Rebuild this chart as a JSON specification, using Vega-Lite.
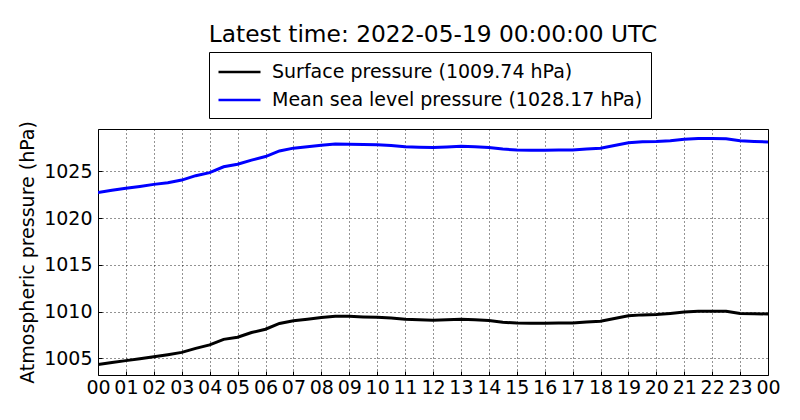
{
  "$schema": "https://vega.github.io/schema/vega-lite/v6.json",
  "width": 670,
  "height": 246,
  "autosize": {"type": "none"},
  "padding": {"left": 98, "top": 129, "right": 32, "bottom": 45},
  "background": "white",
  "title": {
    "text": "Latest time: 2022-05-19 00:00:00 UTC",
    "font": "DejaVu Sans",
    "fontSize": 23.3,
    "fontWeight": "normal",
    "color": "black",
    "anchor": "middle",
    "frame": "group",
    "baseline": "alphabetic",
    "offset": -14
  },
  "data": {
    "values": [
      {"t": "2022-05-18T00:00:00Z", "surface": 1004.32, "msl": 1022.75},
      {"t": "2022-05-18T00:30:00Z", "surface": 1004.55, "msl": 1022.98},
      {"t": "2022-05-18T01:00:00Z", "surface": 1004.74, "msl": 1023.2},
      {"t": "2022-05-18T01:30:00Z", "surface": 1004.95, "msl": 1023.4},
      {"t": "2022-05-18T02:00:00Z", "surface": 1005.15, "msl": 1023.62},
      {"t": "2022-05-18T02:30:00Z", "surface": 1005.38, "msl": 1023.8},
      {"t": "2022-05-18T03:00:00Z", "surface": 1005.62, "msl": 1024.08},
      {"t": "2022-05-18T03:30:00Z", "surface": 1006.05, "msl": 1024.55},
      {"t": "2022-05-18T04:00:00Z", "surface": 1006.42, "msl": 1024.88},
      {"t": "2022-05-18T04:30:00Z", "surface": 1007.02, "msl": 1025.5},
      {"t": "2022-05-18T05:00:00Z", "surface": 1007.25, "msl": 1025.78},
      {"t": "2022-05-18T05:30:00Z", "surface": 1007.75, "msl": 1026.22},
      {"t": "2022-05-18T06:00:00Z", "surface": 1008.1, "msl": 1026.6},
      {"t": "2022-05-18T06:30:00Z", "surface": 1008.72, "msl": 1027.2},
      {"t": "2022-05-18T07:00:00Z", "surface": 1009.02, "msl": 1027.5},
      {"t": "2022-05-18T07:30:00Z", "surface": 1009.18, "msl": 1027.65},
      {"t": "2022-05-18T08:00:00Z", "surface": 1009.35, "msl": 1027.8},
      {"t": "2022-05-18T08:30:00Z", "surface": 1009.48, "msl": 1027.95},
      {"t": "2022-05-18T09:00:00Z", "surface": 1009.48, "msl": 1027.92},
      {"t": "2022-05-18T09:30:00Z", "surface": 1009.42, "msl": 1027.88},
      {"t": "2022-05-18T10:00:00Z", "surface": 1009.38, "msl": 1027.85},
      {"t": "2022-05-18T10:30:00Z", "surface": 1009.3, "msl": 1027.78},
      {"t": "2022-05-18T11:00:00Z", "surface": 1009.18, "msl": 1027.65},
      {"t": "2022-05-18T11:30:00Z", "surface": 1009.12, "msl": 1027.6},
      {"t": "2022-05-18T12:00:00Z", "surface": 1009.07, "msl": 1027.56},
      {"t": "2022-05-18T12:30:00Z", "surface": 1009.12, "msl": 1027.62},
      {"t": "2022-05-18T13:00:00Z", "surface": 1009.18, "msl": 1027.7},
      {"t": "2022-05-18T13:30:00Z", "surface": 1009.12, "msl": 1027.64},
      {"t": "2022-05-18T14:00:00Z", "surface": 1009.04, "msl": 1027.56},
      {"t": "2022-05-18T14:30:00Z", "surface": 1008.86, "msl": 1027.4},
      {"t": "2022-05-18T15:00:00Z", "surface": 1008.76, "msl": 1027.3},
      {"t": "2022-05-18T15:30:00Z", "surface": 1008.74, "msl": 1027.27},
      {"t": "2022-05-18T16:00:00Z", "surface": 1008.75, "msl": 1027.28},
      {"t": "2022-05-18T16:30:00Z", "surface": 1008.76, "msl": 1027.3},
      {"t": "2022-05-18T17:00:00Z", "surface": 1008.76, "msl": 1027.3},
      {"t": "2022-05-18T17:30:00Z", "surface": 1008.88, "msl": 1027.42},
      {"t": "2022-05-18T18:00:00Z", "surface": 1008.96, "msl": 1027.5},
      {"t": "2022-05-18T18:30:00Z", "surface": 1009.25, "msl": 1027.78},
      {"t": "2022-05-18T19:00:00Z", "surface": 1009.55, "msl": 1028.08},
      {"t": "2022-05-18T19:30:00Z", "surface": 1009.64, "msl": 1028.18},
      {"t": "2022-05-18T20:00:00Z", "surface": 1009.68, "msl": 1028.22},
      {"t": "2022-05-18T20:30:00Z", "surface": 1009.8, "msl": 1028.3},
      {"t": "2022-05-18T21:00:00Z", "surface": 1009.95, "msl": 1028.44},
      {"t": "2022-05-18T21:30:00Z", "surface": 1010.03, "msl": 1028.52},
      {"t": "2022-05-18T22:00:00Z", "surface": 1010.04, "msl": 1028.52},
      {"t": "2022-05-18T22:30:00Z", "surface": 1010.02, "msl": 1028.5},
      {"t": "2022-05-18T23:00:00Z", "surface": 1009.8, "msl": 1028.3},
      {"t": "2022-05-18T23:30:00Z", "surface": 1009.76, "msl": 1028.22},
      {"t": "2022-05-19T00:00:00Z", "surface": 1009.74, "msl": 1028.17}
    ]
  },
  "transform": [
    {"fold": ["surface", "msl"], "as": ["series", "pressure"]}
  ],
  "mark": {"type": "line", "strokeWidth": 3, "clip": true},
  "encoding": {
    "x": {
      "field": "t",
      "type": "temporal",
      "title": null,
      "scale": {
        "type": "utc",
        "domain": [1652832000000, 1652918400000],
        "nice": false
      },
      "axis": {
        "format": "%H",
        "values": [
          1652832000000, 1652835600000, 1652839200000, 1652842800000, 1652846400000,
          1652850000000, 1652853600000, 1652857200000, 1652860800000, 1652864400000,
          1652868000000, 1652871600000, 1652875200000, 1652878800000, 1652882400000,
          1652886000000, 1652889600000, 1652893200000, 1652896800000, 1652900400000,
          1652904000000, 1652907600000, 1652911200000, 1652914800000, 1652918400000
        ],
        "labelOverlap": false,
        "labelFlush": false,
        "labelPadding": 7
      }
    },
    "y": {
      "field": "pressure",
      "type": "quantitative",
      "title": "Atmospheric pressure (hPa)",
      "scale": {"domain": [1003.2, 1029.55], "nice": false, "zero": false},
      "axis": {
        "values": [1005, 1010, 1015, 1020, 1025],
        "format": "d",
        "labelPadding": 10,
        "titlePadding": 6
      }
    },
    "color": {
      "field": "series",
      "type": "nominal",
      "scale": {"domain": ["surface", "msl"], "range": ["black", "#0000ff"]},
      "legend": {
        "title": null,
        "orient": "none",
        "legendX": 111,
        "legendY": -77,
        "labelExpr": "datum.value == 'surface' ? 'Surface pressure (1009.74 hPa)' : 'Mean sea level pressure (1028.17 hPa)'"
      }
    }
  },
  "config": {
    "font": "DejaVu Sans",
    "view": {"stroke": "black", "strokeWidth": 1},
    "axis": {
      "domain": false,
      "labelFont": "DejaVu Sans",
      "labelFontSize": 19,
      "labelColor": "black",
      "titleFont": "DejaVu Sans",
      "titleFontSize": 19,
      "titleFontWeight": "normal",
      "titleColor": "black",
      "tickColor": "black",
      "tickSize": -4,
      "grid": true,
      "gridColor": "black",
      "gridDash": [1, 3],
      "gridWidth": 1,
      "gridOpacity": 0.85
    },
    "legend": {
      "strokeColor": "black",
      "strokeWidth": 1,
      "fillColor": "white",
      "padding": 8,
      "symbolType": "M-1,0H3",
      "symbolSize": 441,
      "symbolStrokeWidth": 2.5,
      "labelFont": "DejaVu Sans",
      "labelFontSize": 19,
      "labelColor": "black",
      "labelOffset": 31,
      "labelLimit": 500,
      "rowPadding": 6
    }
  }
}
